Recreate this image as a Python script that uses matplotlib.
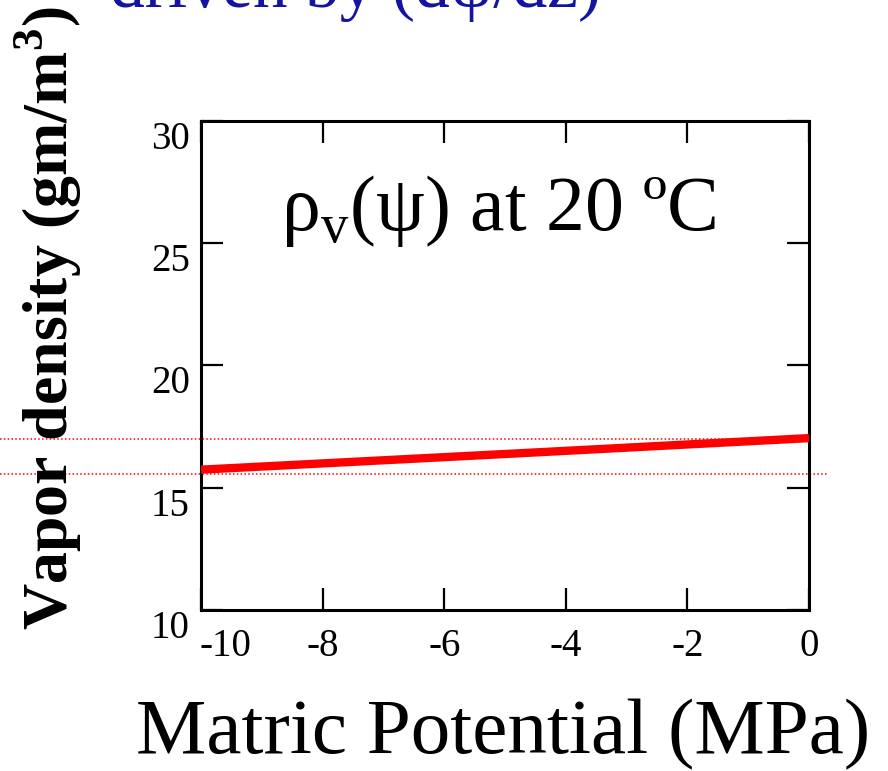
import matplotlib
matplotlib.use("Agg")
import matplotlib.pyplot as plt
import matplotlib.transforms as mtransforms

# data
psi = [-10, -5, 0]                 # matric potential (MPa)
rho_v = [15.74, 16.38, 17.03]      # vapor density (gm/m3)
guide_y = [17.0, 15.55]            # dotted red guide lines
xticks = [-10, -8, -6, -4, -2, 0]
yticks = [10, 15, 20, 25, 30]

plt.rcParams['font.family'] = ['Liberation Serif', 'DejaVu Serif']
plt.rcParams['mathtext.fontset'] = 'custom'
plt.rcParams['mathtext.rm'] = 'Liberation Serif'
plt.rcParams['mathtext.bf'] = 'Liberation Serif:bold'

fig = plt.figure(figsize=(8.88, 7.71), dpi=100)
ax = fig.add_axes([0.2264, 0.2088, 0.6846, 0.6343])

ax.plot(psi, rho_v, color='red', lw=6, solid_capstyle='butt', zorder=3)

# dotted guides run across the whole figure
blend = mtransforms.blended_transform_factory(fig.transFigure, ax.transData)
ax.plot([0, 0.912], [guide_y[0]] * 2, transform=blend, color='red', lw=1.1,
        ls=(0, (1, 1.5)), clip_on=False, zorder=2)
ax.plot([0, 0.932], [guide_y[1]] * 2, transform=blend, color='red', lw=1.1,
        ls=(0, (1, 1.5)), clip_on=False, zorder=2)

ax.set_xlim(-10, 0)
ax.set_ylim(10, 30)
ax.set_xticks(xticks)
ax.set_yticks(yticks)
ax.set_xticklabels([str(v) for v in xticks])
ax.set_yticklabels([str(v) for v in yticks])
ax.tick_params(direction='in', length=16, width=1.6, top=True, right=True,
               labelsize=28)
ax.tick_params(axis='x', pad=13)
ax.tick_params(axis='y', pad=8)
for lab in ax.get_yticklabels():
    lab.set_va('top')
# first x label is nudged right in the original
xl = ax.get_xticklabels()
xl[0].set_transform(xl[0].get_transform() +
                    mtransforms.ScaledTranslation(0.24, 0, fig.dpi_scale_trans))
for s in ax.spines.values():
    s.set_linewidth(2.2)

ax.text(0.132, 0.777, r'ρ$_\mathrm{v}$(ψ) at 20 ºC', transform=ax.transAxes,
        fontsize=56, va='baseline', ha='left')

fig.text(48 / 888, 1 - 318 / 771, r'Vapor density (gm/m$^\mathbf{3}$)',
         rotation=90, fontsize=46, fontweight='bold', ha='center', va='center')
fig.text(0.567, 1 - 735 / 771, 'Matric Potential (MPa)', fontsize=57,
         ha='center', va='center')
fig.text(110 / 888, 1 - 7 / 771, 'driven by (dψ/dz)', fontsize=50,
         color='#1414a0', ha='left', va='baseline')

fig.savefig('out.png', dpi=100)
